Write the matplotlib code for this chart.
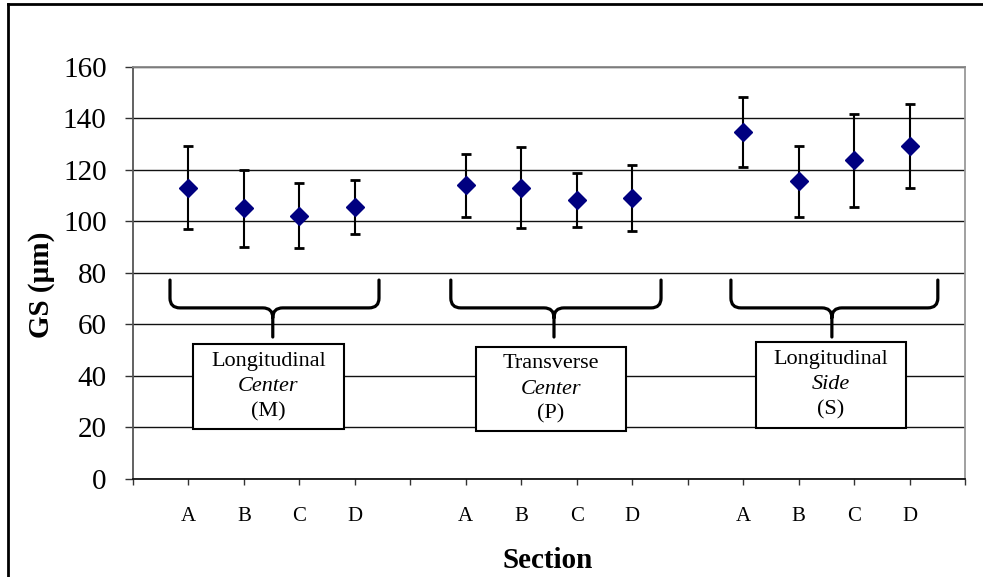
import matplotlib
matplotlib.use("Agg")
import matplotlib.pyplot as plt
from matplotlib.path import Path
from matplotlib.patches import PathPatch, Rectangle
from matplotlib.lines import Line2D

plt.rcParams['font.family'] = ['Liberation Serif', 'DejaVu Serif']

# ---- data ----
sections = ['A', 'B', 'C', 'D']
group_names = [('Longitudinal', 'Center', '(M)'),
               ('Transverse', 'Center', '(P)'),
               ('Longitudinal', 'Side', '(S)')]
means_M = [113.1, 105.0, 102.2, 105.6]
err_M = [16.0, 14.9, 12.5, 10.4]
means_P = [114.0, 113.1, 108.3, 109.0]
err_P = [12.2, 15.6, 10.4, 12.8]
means_S = [134.7, 115.5, 123.7, 129.2]
err_S = [13.6, 13.9, 18.1, 16.4]
y_ticks = [0, 20, 40, 60, 80, 100, 120, 140, 160]

W, H = 983, 577
fig = plt.figure(figsize=(W / 100, H / 100), dpi=100)
ax = fig.add_axes([133 / W, 1 - 479 / H, (965 - 133) / W, (479 - 66.7) / H])

all_means = [means_M, means_P, means_S]
all_errs = [err_M, err_P, err_S]
labels_pos = {}
for g, (m, e) in enumerate(zip(all_means, all_errs)):
    xs = [g * 5 + i + 1 for i in range(len(sections))]
    ax.errorbar(xs, m, yerr=e, fmt='none', ecolor='black', elinewidth=1.5,
                capsize=3.5, capthick=2, zorder=4)
    ax.plot(xs, m, linestyle='none', marker='D', markersize=9.5,
            markerfacecolor='#000080', markeredgecolor='#000080', zorder=5)
    for x, s in zip(xs, sections):
        labels_pos[x] = s

ax.set_xlim(0, 15)
ax.set_ylim(0, 160)
ticks = list(range(16))
ax.set_xticks(ticks)
ax.set_xticklabels([labels_pos.get(t, '') for t in ticks], fontsize=15)
ax.set_yticks(y_ticks)
ax.set_yticklabels([str(v) for v in y_ticks], fontsize=21)
ax.tick_params(axis='y', direction='out', length=6, width=1, pad=13, color='#333333')
ax.tick_params(axis='x', direction='out', length=4, width=1, pad=16, color='#333333')

ax.yaxis.grid(True, color='#111111', linewidth=1.0)
ax.set_axisbelow(True)
for side, col in [('left', '#555555'), ('bottom', '#111111'),
                  ('top', '#888888'), ('right', '#999999')]:
    ax.spines[side].set_color(col)
    ax.spines[side].set_linewidth(1.3)

ax.set_ylabel('GS (µm)', fontsize=21, fontweight='bold')
ax.yaxis.set_label_coords(-0.094, 0.47)
ax.set_xlabel('Section', fontsize=21, fontweight='bold')
ax.xaxis.set_label_coords(0.498, -0.165)

# ---- braces ----
brace_spans = [(0.667, 4.435, 2.52), (5.73, 9.52, 7.59), (10.78, 14.51, 12.6)]
ytop, yh, ytip = 77.2, 66.4, 55.1
rx, ry = 0.18, 3.8
for x0, x1, xc in brace_spans:
    verts = [(x0, ytop), (x0, yh + ry), (x0, yh), (x0 + rx, yh),
             (xc - rx, yh), (xc, yh), (xc, yh - ry), (xc, ytip),
             (x1, ytop), (x1, yh + ry), (x1, yh), (x1 - rx, yh),
             (xc + rx, yh), (xc, yh), (xc, yh - ry)]
    codes = [Path.MOVETO, Path.LINETO, Path.CURVE3, Path.CURVE3,
             Path.LINETO, Path.CURVE3, Path.CURVE3, Path.LINETO,
             Path.MOVETO, Path.LINETO, Path.CURVE3, Path.CURVE3,
             Path.LINETO, Path.CURVE3, Path.CURVE3]
    ax.add_patch(PathPatch(Path(verts, codes), facecolor='none',
                           edgecolor='black', linewidth=2.3, zorder=3,
                           capstyle='round', joinstyle='round'))

# ---- text boxes ----
boxes = [(1.08, 3.80, 19.4, 52.4), (6.18, 8.89, 18.6, 51.2), (11.23, 13.94, 19.8, 53.2)]
dy = 9.8
for (bx0, bx1, by0, by1), (l1, l2, l3) in zip(boxes, group_names):
    ax.add_patch(Rectangle((bx0, by0), bx1 - bx0, by1 - by0, facecolor='white',
                           edgecolor='black', linewidth=1.5, zorder=3))
    cx, cy = (bx0 + bx1) / 2, (by0 + by1) / 2
    ax.text(cx, cy + dy, l1, ha='center', va='center', fontsize=16, zorder=6)
    ax.text(cx, cy, l2, ha='center', va='center', fontsize=16, style='italic', zorder=6)
    ax.text(cx, cy - dy, l3, ha='center', va='center', fontsize=16, zorder=6)

# ---- outer frame ----
fig.add_artist(Line2D([8 / W, 8 / W], [0, 1 - 4 / H], transform=fig.transFigure,
                      color='black', linewidth=2))
fig.add_artist(Line2D([8 / W, 1], [1 - 4 / H, 1 - 4 / H], transform=fig.transFigure,
                      color='black', linewidth=2))

fig.savefig('out.png', dpi=100)
